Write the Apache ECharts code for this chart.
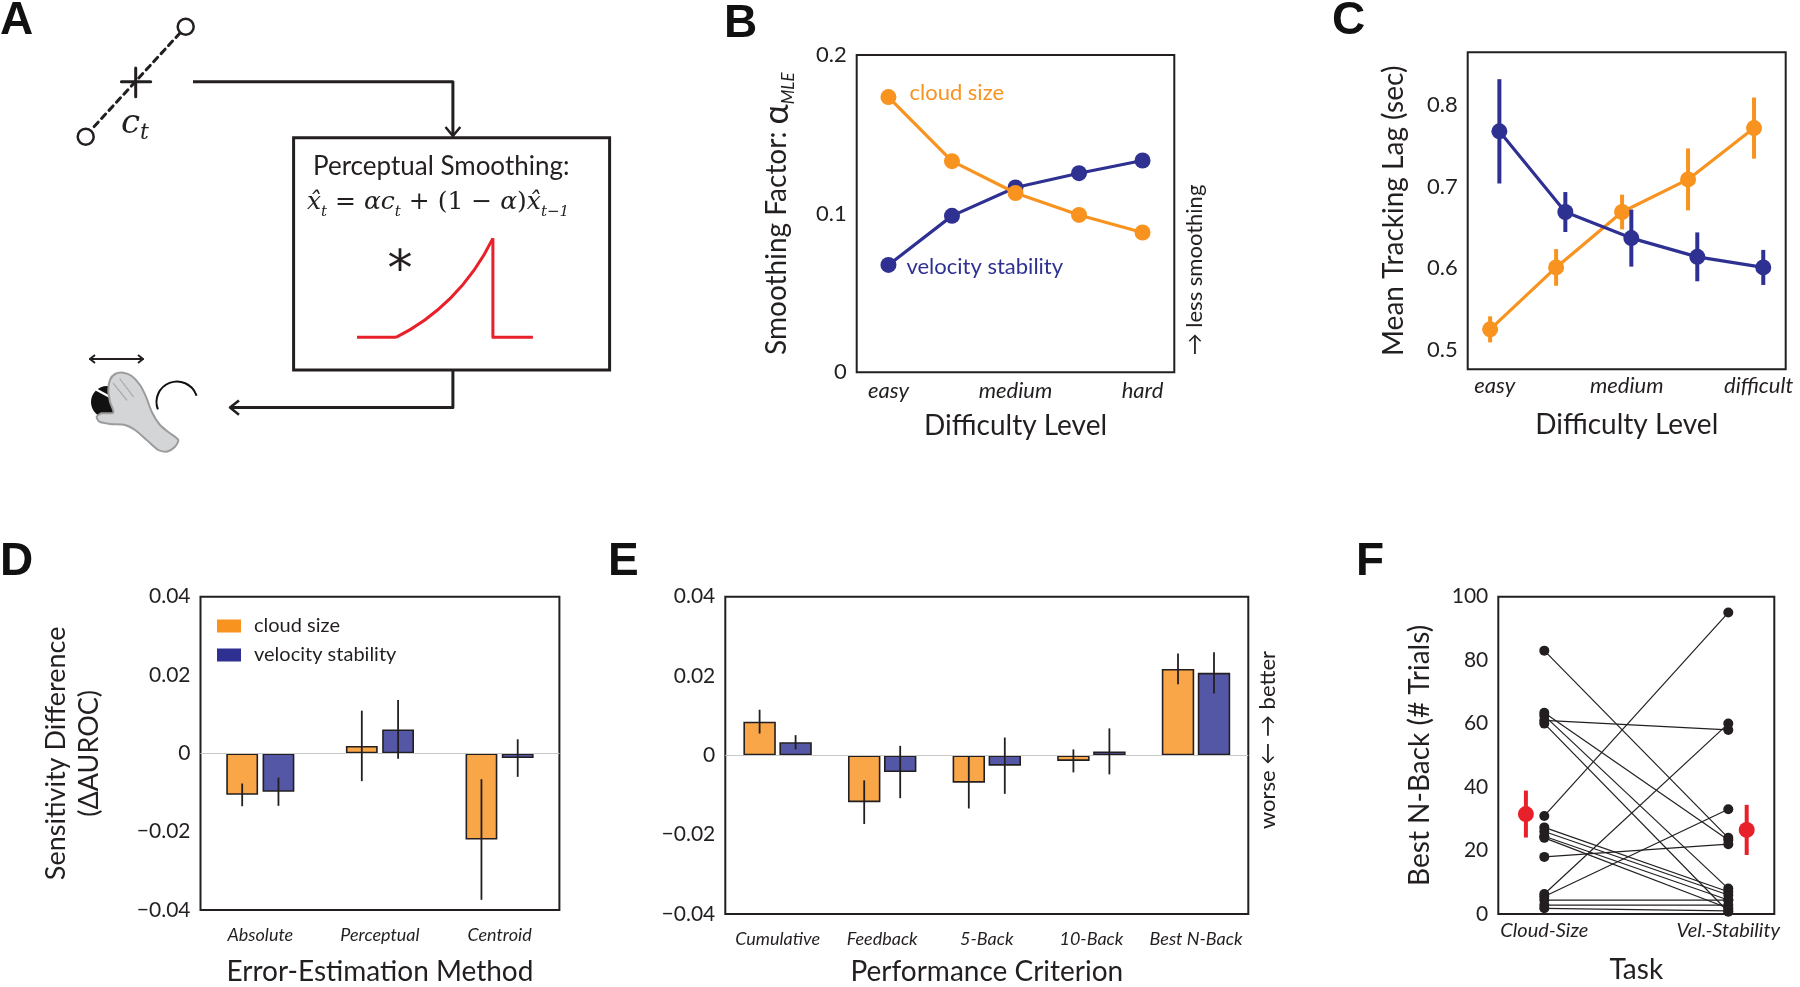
<!DOCTYPE html>
<html>
<head>
<meta charset="utf-8">
<script src="https://cdn.jsdelivr.net/npm/echarts@6/dist/echarts.min.js"></script>
<style>
html,body{margin:0;padding:0;background:#fff}
#fig{width:1800px;height:987px}
</style>
</head>
<body>
<div id="fig"></div>
<script>
// B: smoothing factor by difficulty
var levelLabels = ['easy', '', 'medium', '', 'hard'];
var smoothCloud = [0.1735, 0.1331, 0.113, 0.0992, 0.0881];
var smoothVel = [0.0677, 0.0986, 0.1165, 0.1255, 0.1335];

// C: tracking lag
var lagLabels = ['easy', '', 'medium', '', 'difficult'];
var lagTicks = [0.5, 0.6, 0.7, 0.8];
var lagCloud = [0.525, 0.601, 0.669, 0.709, 0.772];
var lagCloudErr = [0.016, 0.0225, 0.0213, 0.038, 0.0375];
var lagVel = [0.768, 0.669, 0.637, 0.614, 0.601];
var lagVelErr = [0.064, 0.0245, 0.035, 0.030, 0.0215];

// D: error estimation method
var methodCats = ['Absolute', 'Perceptual', 'Centroid'];
var methodCloud = [-0.0106, 0.0019, -0.022];
var methodCloudErr = [0.0029, 0.009, 0.0154];
var methodVel = [-0.0098, 0.0061, -0.0012];
var methodVelErr = [0.0036, 0.0075, 0.0048];

// E: performance criterion
var critCats = ['Cumulative', 'Feedback', '5-Back', '10-Back', 'Best N-Back'];
var critCloud = [0.0085, -0.0118, -0.0069, -0.0014, 0.0218];
var critCloudErr = [0.003, 0.0055, 0.0065, 0.0029, 0.0039];
var critVel = [0.0033, -0.0042, -0.0026, 0.001, 0.0208];
var critVelErr = [0.0018, 0.0066, 0.0071, 0.0058, 0.0052];

// F: best n-back per subject
var taskCats = ['Cloud-Size', 'Vel.-Stability'];
var nbackCloud = [83, 63.4, 62.5, 61, 60, 30.9, 27.3, 26, 24.5, 24, 18, 6.3, 5.5, 4.4, 2.8, 1.8];
var nbackVel   = [24, 23.3, 8, 58, 0.7, 95, 7, 6, 4.4, 1.8, 22, 60, 33, 4.4, 2.8, 1];
var nbackMean = [31.5, 26.5];
var nbackMeanErr = [7.4, 7.9];

var INK = '#231f20';
var ORANGE = '#F7931E';
var BLUE = '#2E3192';
var RED = '#E8202A';
var ORANGE_BAR = 'rgba(247,147,30,0.82)';
var BLUE_BAR = 'rgba(46,49,146,0.82)';
var FONT = 'Lato';

var chart = echarts.init(document.getElementById('fig'));

function box(left, top, width, height) {
    return {left: left, top: top, width: width, height: height, show: true,
        borderColor: INK, borderWidth: 2, backgroundColor: 'transparent'};
}

function bare(ax) {
    ax.axisLine = {show: false};
    ax.axisTick = {show: false};
    ax.splitLine = {show: false};
    ax.nameTextStyle = ax.nameTextStyle || {fontSize: 28, fontFamily: FONT, color: INK};
    ax.axisLabel = Object.assign({color: INK, fontFamily: FONT, fontSize: 22}, ax.axisLabel || {});
    return ax;
}

function fmtSigned(v) {
    if (Math.abs(v) < 1e-9) return '0';
    return (v < 0 ? '\u2212' : '') + Math.abs(v).toFixed(2);
}

// error bar for dodged bars on a category axis
function barErr(sign, frac) {
    return function (params, api) {
        var i = api.value(0);
        var lo = api.coord([i, api.value(1)]);
        var hi = api.coord([i, api.value(2)]);
        var dx = sign * frac * api.size([1, 0])[0];
        return {type: 'line', shape: {x1: lo[0] + dx, y1: lo[1], x2: hi[0] + dx, y2: hi[1]},
            style: {stroke: INK, lineWidth: 1.8}};
    };
}

// error bar for points on value axes
function ptErr(color, w) {
    return function (params, api) {
        var lo = api.coord([api.value(0), api.value(1)]);
        var hi = api.coord([api.value(0), api.value(2)]);
        return {type: 'line', shape: {x1: lo[0], y1: lo[1], x2: hi[0], y2: hi[1]},
            style: {stroke: color, lineWidth: w}};
    };
}

var DODGE = 0.07;

var series = [];

// ---- B
series.push({
    type: 'line', name: 'B cloud', xAxisIndex: 0, yAxisIndex: 0,
    data: smoothCloud.map(function (v, i) { return [i, v]; }),
    symbol: 'circle', symbolSize: 16, lineStyle: {color: ORANGE, width: 3.2},
    itemStyle: {color: ORANGE}, z: 3,
    label: {show: true, position: 'right', distance: 13, offset: [0, -4], color: ORANGE, fontSize: 22, fontFamily: FONT,
        formatter: function (p) { return p.dataIndex === 0 ? 'cloud size' : ''; }}
});
series.push({
    type: 'line', name: 'B vel', xAxisIndex: 0, yAxisIndex: 0,
    data: smoothVel.map(function (v, i) { return [i, v]; }),
    symbol: 'circle', symbolSize: 16, lineStyle: {color: BLUE, width: 3.2},
    itemStyle: {color: BLUE}, z: 2,
    label: {show: true, position: 'right', distance: 10, offset: [0, 2], color: BLUE, fontSize: 22, fontFamily: FONT,
        formatter: function (p) { return p.dataIndex === 0 ? 'velocity stability' : ''; }}
});

// ---- C
series.push({
    type: 'custom', xAxisIndex: 1, yAxisIndex: 1, renderItem: ptErr(ORANGE, 4),
    data: lagCloud.map(function (v, i) { return [i - DODGE, v - lagCloudErr[i], v + lagCloudErr[i]]; }),
    encode: {x: 0, y: [1, 2]}, z: 2
});
series.push({
    type: 'line', name: 'C cloud', xAxisIndex: 1, yAxisIndex: 1,
    data: lagCloud.map(function (v, i) { return [i - DODGE, v]; }),
    symbol: 'circle', symbolSize: 16, lineStyle: {color: ORANGE, width: 3.2},
    itemStyle: {color: ORANGE}, z: 3
});
series.push({
    type: 'custom', xAxisIndex: 1, yAxisIndex: 1, renderItem: ptErr(BLUE, 4),
    data: lagVel.map(function (v, i) { return [i + DODGE, v - lagVelErr[i], v + lagVelErr[i]]; }),
    encode: {x: 0, y: [1, 2]}, z: 4
});
series.push({
    type: 'line', name: 'C vel', xAxisIndex: 1, yAxisIndex: 1,
    data: lagVel.map(function (v, i) { return [i + DODGE, v]; }),
    symbol: 'circle', symbolSize: 16, lineStyle: {color: BLUE, width: 3.2},
    itemStyle: {color: BLUE}, z: 4
});

// ---- D and E bars
function barPair(axis, cloud, cloudErr, vel, velErr, bw, gap) {
    var frac = bw * (1 + gap) / 2;
    series.push({
        type: 'bar', name: 'cloud size', xAxisIndex: axis, yAxisIndex: axis, data: cloud,
        barWidth: (bw * 100) + '%', barGap: (gap * 100) + '%',
        itemStyle: {color: ORANGE_BAR, borderColor: INK, borderWidth: 1.6},
        markLine: {silent: true, symbol: 'none', label: {show: false},
            lineStyle: {color: '#c9c9c9', width: 1.2, type: 'solid'}, data: [{yAxis: 0}]},
        z: 2
    });
    series.push({
        type: 'bar', name: 'velocity stability', xAxisIndex: axis, yAxisIndex: axis, data: vel,
        barWidth: (bw * 100) + '%', barGap: (gap * 100) + '%',
        itemStyle: {color: BLUE_BAR, borderColor: INK, borderWidth: 1.6}, z: 2
    });
    series.push({
        type: 'custom', xAxisIndex: axis, yAxisIndex: axis, renderItem: barErr(-1, frac),
        data: cloud.map(function (v, i) { return [i, v - cloudErr[i], v + cloudErr[i]]; }),
        encode: {x: 0, y: [1, 2]}, z: 5
    });
    series.push({
        type: 'custom', xAxisIndex: axis, yAxisIndex: axis, renderItem: barErr(1, frac),
        data: vel.map(function (v, i) { return [i, v - velErr[i], v + velErr[i]]; }),
        encode: {x: 0, y: [1, 2]}, z: 5
    });
}
barPair(2, methodCloud, methodCloudErr, methodVel, methodVelErr, 0.266, 0.14);
barPair(3, critCloud, critCloudErr, critVel, critVelErr, 0.31, 0.11);

// ---- F
for (var s = 0; s < nbackCloud.length; s++) {
    series.push({
        type: 'line', name: 'subj' + s, xAxisIndex: 4, yAxisIndex: 4,
        data: [[0, nbackCloud[s]], [1, nbackVel[s]]],
        symbol: 'circle', symbolSize: 10, lineStyle: {color: INK, width: 1.2},
        itemStyle: {color: INK}, z: 2, silent: true
    });
}
series.push({
    type: 'custom', xAxisIndex: 4, yAxisIndex: 4, renderItem: ptErr(RED, 4),
    data: nbackMean.map(function (v, i) { return [i + (i === 0 ? -0.1 : 0.1), v - nbackMeanErr[i], v + nbackMeanErr[i]]; }),
    encode: {x: 0, y: [1, 2]}, z: 6
});
series.push({
    type: 'scatter', name: 'mean', xAxisIndex: 4, yAxisIndex: 4,
    data: nbackMean.map(function (v, i) { return [i + (i === 0 ? -0.1 : 0.1), v]; }),
    symbol: 'circle', symbolSize: 16, itemStyle: {color: RED, opacity: 1}, z: 7
});

var xAxes = [
    bare({type: 'value', gridIndex: 0, min: -0.5, max: 4.5,
        axisLabel: {customValues: [0, 2, 4], formatter: function (v) { return levelLabels[v]; },
            fontStyle: 'italic', fontSize: 22, margin: 8},
        name: 'Difficulty Level', nameLocation: 'middle', nameGap: 40}),
    bare({type: 'value', gridIndex: 1, min: -0.41, max: 4.41,
        axisLabel: {customValues: [0, 2, 4], formatter: function (v) { return lagLabels[v]; },
            fontStyle: 'italic', fontSize: 22, margin: 6},
        name: 'Difficulty Level', nameLocation: 'middle', nameGap: 42}),
    bare({type: 'category', gridIndex: 2, data: methodCats,
        axisLabel: {fontStyle: 'italic', fontSize: 18, margin: 16},
        name: 'Error-Estimation Method', nameLocation: 'middle', nameGap: 48}),
    bare({type: 'category', gridIndex: 3, data: critCats,
        axisLabel: {fontStyle: 'italic', fontSize: 18, margin: 16, interval: 0},
        name: 'Performance Criterion', nameLocation: 'middle', nameGap: 44}),
    bare({type: 'value', gridIndex: 4, min: -0.25, max: 1.25,
        axisLabel: {customValues: [0, 1], formatter: function (v) { return taskCats[v]; },
            fontStyle: 'italic', fontSize: 20, margin: 7},
        name: 'Task', nameLocation: 'middle', nameGap: 42})
];

var yAxes = [
    bare({type: 'value', gridIndex: 0, min: 0, max: 0.2, interval: 0.1,
        axisLabel: {margin: 10, formatter: function (v) { return v === 0 ? '0' : v.toFixed(1); }},
        name: '{n|Smoothing Factor: }{a|\u03b1}{s|MLE}', nameLocation: 'middle', nameGap: 60,
        nameTextStyle: {fontSize: 28, fontFamily: FONT, color: INK, rich: {
            n: {fontSize: 28, fontFamily: FONT, color: INK, lineHeight: 40},
            a: {fontSize: 34, fontFamily: FONT, color: INK, lineHeight: 40},
            s: {fontSize: 17, fontFamily: FONT, fontStyle: 'italic', color: INK, verticalAlign: 'bottom', lineHeight: 17}
        }}}),
    bare({type: 'value', gridIndex: 1, min: 0.476, max: 0.865,
        axisLabel: {margin: 10, customValues: lagTicks, formatter: function (v) { return v.toFixed(1); }},
        name: 'Mean Tracking Lag (sec)', nameLocation: 'middle', nameGap: 60}),
    bare({type: 'value', gridIndex: 2, min: -0.04, max: 0.04, interval: 0.02,
        axisLabel: {margin: 10, fontSize: 21, formatter: fmtSigned},
        name: 'Sensitivity Difference\n(\u0394AUROC)', nameLocation: 'middle', nameGap: 95,
        nameTextStyle: {fontSize: 27, fontFamily: FONT, color: INK, lineHeight: 33}}),
    bare({type: 'value', gridIndex: 3, min: -0.04, max: 0.04, interval: 0.02,
        axisLabel: {margin: 10, fontSize: 21, formatter: fmtSigned}}),
    bare({type: 'value', gridIndex: 4, min: 0, max: 100, interval: 20,
        axisLabel: {margin: 10, fontSize: 21},
        name: 'Best N-Back (# Trials)', nameLocation: 'middle', nameGap: 64})
];

// ---- panel A diagram and panel letters
function seg(x1, y1, x2, y2, w, color, dash) {
    return {type: 'line', shape: {x1: x1, y1: y1, x2: x2, y2: y2},
        style: {stroke: color || INK, lineWidth: w || 3, lineDash: dash || null, lineCap: 'round'}, z: 10};
}
function poly(points, w, color, fill) {
    return {type: fill ? 'polygon' : 'polyline', shape: {points: points, smooth: fill ? 0.25 : 0},
        style: {stroke: color || INK, lineWidth: w || 3, fill: fill || null, lineJoin: 'round'}, z: 10};
}
function letter(t, x, y) {
    return {type: 'text', x: x, y: y, style: {text: t, fill: '#111', font: 'bold 46px "Liberation Sans"',
        align: 'left', verticalAlign: 'middle'}, z: 10};
}
function vtext(t, x, y, size) {
    return {type: 'text', x: x, y: y, rotation: Math.PI / 2,
        style: {text: t, fill: INK, font: size + 'px ' + FONT, align: 'center', verticalAlign: 'middle'}, z: 10};
}

var graphics = [
    letter('A', 0, 21), letter('B', 724, 24), letter('C', 1332, 21),
    letter('D', 0, 562), letter('E', 608, 562), letter('F', 1356, 562),

    // stimulus: two circles joined by a dashed line, centroid cross
    seg(180, 33, 91, 130, 3, INK, [6, 5]),
    {type: 'circle', shape: {cx: 185.7, cy: 26.7, r: 8}, style: {stroke: INK, lineWidth: 2.5, fill: '#fff'}, z: 11},
    {type: 'circle', shape: {cx: 85.7, cy: 136.7, r: 8}, style: {stroke: INK, lineWidth: 2.5, fill: '#fff'}, z: 11},
    seg(121.4, 81.7, 150.7, 81.7, 3), seg(135.7, 68, 135.7, 96.7, 3),
    {type: 'text', x: 121, y: 124, style: {text: '{c|c}{t|t}', fill: INK, align: 'left', verticalAlign: 'middle',
        rich: {c: {font: 'italic 34px "DejaVu Serif"', fill: INK, lineHeight: 40},
               t: {font: 'italic 22px "DejaVu Serif"', fill: INK, verticalAlign: 'bottom', lineHeight: 22}}}, z: 10},

    // arrow into the box
    poly([[193, 81.7], [452.9, 81.7], [452.9, 135]], 3),
    poly([[445.5, 127], [452.9, 136], [460.3, 127]], 2.5),

    // smoothing box
    {type: 'rect', shape: {x: 293.6, y: 137.7, width: 316, height: 232.3},
        style: {stroke: INK, lineWidth: 3, fill: '#fff'}, z: 9},
    {type: 'text', x: 313, y: 167, style: {text: 'Perceptual Smoothing:', fill: INK, font: '26px ' + FONT,
        align: 'left', verticalAlign: 'middle'}, z: 10},
    {type: 'text', x: 307, y: 202, style: {
        text: '{v|x\u0302}{s|t}{n| = }{v|\u03b1c}{s|t}{n| + (1 \u2212 }{v|\u03b1}{n|)}{v|x\u0302}{s|t\u22121}',
        align: 'left', verticalAlign: 'middle', fill: INK,
        rich: {
            v: {font: 'italic 25px "DejaVu Serif"', fill: INK, lineHeight: 36},
            n: {font: '25px "DejaVu Serif"', fill: INK, lineHeight: 36},
            s: {font: 'italic 15px "DejaVu Serif"', fill: INK, verticalAlign: 'bottom', lineHeight: 17}
        }}, z: 10},
    {type: 'text', x: 400, y: 272, style: {text: '*', fill: INK, font: '50px "DejaVu Sans"',
        align: 'center', verticalAlign: 'middle'}, z: 10},
    poly([[357, 337.3], [396, 337.3]], 3, RED),
    {type: 'bezierCurve', shape: {x1: 396, y1: 337.3, cpx1: 435, cpy1: 318, cpx2: 470, cpy2: 285, x2: 492.9, y2: 238.3},
        style: {stroke: RED, lineWidth: 3, fill: null}, z: 10},
    poly([[492.9, 238.3], [492.9, 337.3], [532.9, 337.3]], 3, RED),

    // arrow out of the box
    poly([[452.9, 370], [452.9, 407.6], [231, 407.6]], 3),
    poly([[239, 400.5], [230, 407.6], [239, 414.7]], 2.5),

    // hand on a trackball
    seg(90, 359, 143, 359, 2),
    poly([[95, 355], [90, 359], [95, 363]], 2),
    poly([[138, 355], [143, 359], [138, 363]], 2),
    {type: 'circle', shape: {cx: 107, cy: 402, r: 16}, style: {fill: '#111', stroke: null}, z: 10},
    seg(97, 390, 110, 397, 2.5, '#fff'),
    poly([[110, 380], [115, 374], [123.3, 372.7], [131.7, 376], [140, 385], [146, 396.7], [151.7, 411.7],
        [160, 425], [170, 433.3], [178.3, 440], [175, 446.7], [166.7, 451.7], [158.3, 450], [146.7, 440],
        [135, 430], [125, 425], [110, 424], [99.3, 421.7], [96.7, 416.7], [101.7, 413.3], [113.3, 412.7],
        [110, 401.7], [108.3, 390]], 2, '#9a9c9e', '#d3d5d7'),
    seg(113.3, 383.3, 126.7, 400, 1.2, '#a8aaac'),
    seg(120, 379, 133.3, 396.7, 1.2, '#a8aaac'),
    {type: 'arc', shape: {cx: 177, cy: 402, r: 20.5, startAngle: 2.77, endAngle: 5.97, clockwise: true},
        style: {stroke: '#111', lineWidth: 2, fill: null}, z: 10},

    // side annotations
    vtext('\u2192 less smoothing', 1195, 270, 22),
    vtext('worse \u2190 \u2192 better', 1268, 740, 22)
];

var option = {
    animation: false,
    backgroundColor: '#fff',
    textStyle: {fontFamily: FONT, color: INK},
    grid: [
        box(856.7, 55, 317.6, 317.3),
        box(1467.7, 52.3, 318, 317),
        box(200.5, 596.7, 358.9, 317.3),
        box(725.3, 596.7, 523, 317.3),
        box(1498.3, 596.7, 276, 317.3)
    ],
    legend: {
        left: 212, top: 611, orient: 'vertical', icon: 'rect',
        itemWidth: 24, itemHeight: 13, itemGap: 9, selectedMode: false,
        textStyle: {fontSize: 20, fontFamily: FONT, color: INK, lineHeight: 20, padding: [0, 0, 0, 8]},
        data: [
            {name: 'cloud size', itemStyle: {color: ORANGE, borderWidth: 0}},
            {name: 'velocity stability', itemStyle: {color: BLUE, borderWidth: 0}}
        ]
    },
    xAxis: xAxes,
    yAxis: yAxes,
    series: series,
    graphic: {elements: graphics}
};

chart.setOption(option);
</script>
</body>
</html>
